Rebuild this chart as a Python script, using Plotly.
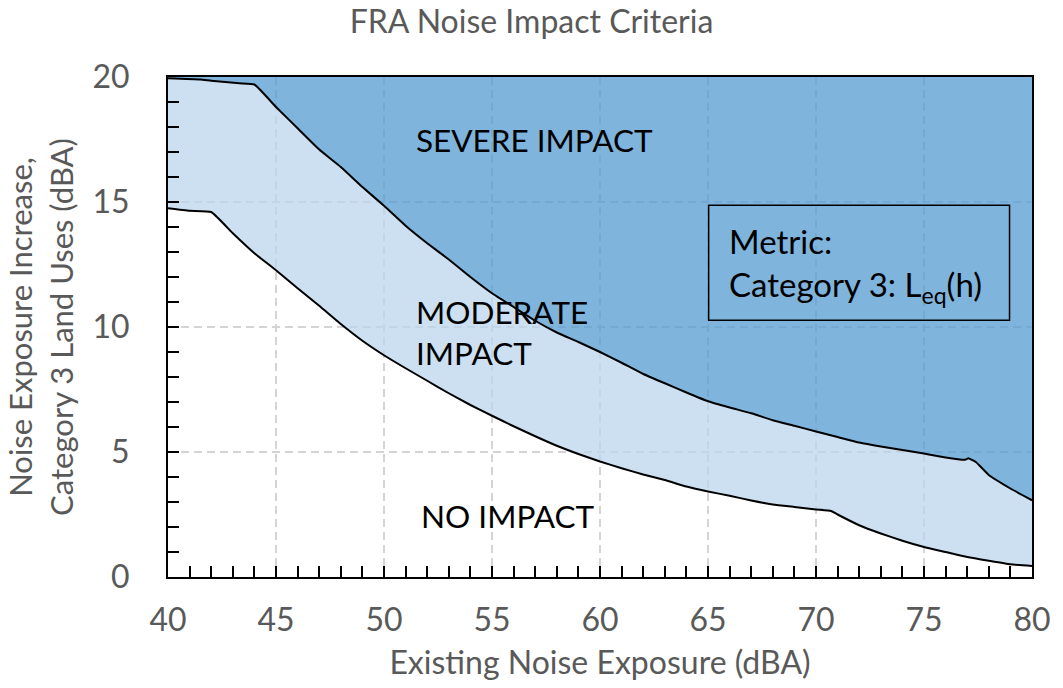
import plotly.graph_objects as go

# ---- data ----
severe_x = [40, 41.5, 42, 43.3, 44, 45, 46, 47, 48, 49, 50, 51, 52, 53, 54, 55, 56, 57, 58, 59,
            60, 61, 62, 63, 64, 65, 66, 67, 68, 69, 70, 71, 72, 73, 74, 75, 76, 76.9, 77.05,
            77.4, 78, 79, 80]
severe_y = [19.95, 19.9, 19.85, 19.75, 19.7, 18.8, 17.95, 17.1, 16.4, 15.6, 14.85, 14.05, 13.35,
            12.7, 12.0, 11.35, 10.8, 10.25, 9.78, 9.4, 9.0, 8.57, 8.12, 7.75, 7.38, 7.03, 6.78,
            6.55, 6.27, 6.05, 5.82, 5.6, 5.38, 5.22, 5.08, 4.94, 4.78, 4.69, 4.75, 4.6, 4.08,
            3.54, 3.07]

moderate_x = [40, 41, 42, 43, 44, 45, 46, 47, 48, 49, 50, 51, 52, 53, 54, 55, 56, 57, 58, 59,
              60, 61, 62, 63, 64, 65, 66, 67, 68, 69, 70, 70.7, 71, 72, 73, 74, 75, 76, 77, 78,
              79, 80]
moderate_y = [14.75, 14.65, 14.6, 13.75, 12.95, 12.27, 11.55, 10.85, 10.12, 9.45, 8.87, 8.35,
              7.85, 7.35, 6.88, 6.45, 6.03, 5.63, 5.25, 4.92, 4.62, 4.35, 4.1, 3.88, 3.62, 3.42,
              3.25, 3.06, 2.9, 2.8, 2.7, 2.64, 2.5, 2.07, 1.74, 1.45, 1.2, 1.0, 0.8, 0.65, 0.51,
              0.44]

x_range = [40, 80]
y_range = [0, 20]

title_text = "FRA Noise Impact Criteria"
x_title = "Existing Noise Exposure (dBA)"
y_title = "Noise Exposure Increase,<br>Category 3 Land Uses (dBA)"

FONT = "Lato"
GREY = "#595959"
SEVERE_FILL = "rgba(84,156,210,0.75)"
MODERATE_FILL = "rgba(188,214,238,0.75)"
SMOOTH = dict(shape="spline", smoothing=0.4)

fig = go.Figure()
# base (moderate threshold) - invisible
fig.add_trace(go.Scatter(x=moderate_x, y=moderate_y, mode="lines",
                         line=dict(width=0, **SMOOTH), hoverinfo="skip", showlegend=False))
# moderate fill up to severe threshold
fig.add_trace(go.Scatter(x=severe_x, y=severe_y, mode="lines", fill="tonexty",
                         fillcolor=MODERATE_FILL, line=dict(width=0, **SMOOTH),
                         hoverinfo="skip", showlegend=False))
# severe fill up to top of axis
fig.add_trace(go.Scatter(x=x_range, y=[y_range[1], y_range[1]], mode="lines", fill="tonexty",
                         fillcolor=SEVERE_FILL, line=dict(width=0),
                         hoverinfo="skip", showlegend=False))
# threshold curves
fig.add_trace(go.Scatter(x=moderate_x, y=moderate_y, mode="lines",
                         line=dict(color="black", width=2, **SMOOTH), showlegend=False))
fig.add_trace(go.Scatter(x=severe_x, y=severe_y, mode="lines",
                         line=dict(color="black", width=2, **SMOOTH), showlegend=False))

axis_common = dict(
    showline=True, linecolor="black", linewidth=2, mirror=True,
    ticks="inside", ticklen=11, tickwidth=1.5, tickcolor="black",
    showgrid=True, gridcolor="#D4D4D4", gridwidth=1.5, griddash="8px,5px",
    zeroline=False,
    tickfont=dict(family=FONT, size=32, color=GREY),
)

fig.update_xaxes(range=x_range, dtick=5, tick0=40,
                 minor=dict(dtick=1, ticks="inside", ticklen=11, tickwidth=1.5,
                            tickcolor="black", showgrid=False),
                 title=dict(text=x_title, font=dict(family=FONT, size=32, color=GREY), standoff=14),
                 ticklabelstandoff=14,
                 **axis_common)
fig.update_yaxes(range=y_range, dtick=5, tick0=0,
                 minor=dict(dtick=1, ticks="inside", ticklen=11, tickwidth=1.5,
                            tickcolor="black", showgrid=False),
                 title=dict(text=y_title, font=dict(family=FONT, size=31, color=GREY), standoff=10),
                 ticklabelstandoff=30,
                 **axis_common)

label_font = dict(family=FONT, size=31.5, color="black")
box_font = dict(family=FONT, size=33, color="black")
fig.add_annotation(x=51.4, y=17.5, text="SEVERE IMPACT", showarrow=False,
                   xanchor="left", yanchor="middle", font=label_font)
fig.add_annotation(x=51.4, y=9.8, text="MODERATE<br>IMPACT", showarrow=False,
                   xanchor="left", yanchor="middle", align="left", font=label_font)
fig.add_annotation(x=51.6, y=2.45, text="NO IMPACT", showarrow=False,
                   xanchor="left", yanchor="middle", font=label_font)

# metric box
fig.add_shape(type="rect", x0=65.03, x1=78.96, y0=10.27, y1=14.87,
              line=dict(color="black", width=1.5), fillcolor="rgba(0,0,0,0)")
fig.add_annotation(x=65.9, y=12.49, text="Metric:<br>Category 3: L<sub>eq</sub>(h)",
                   showarrow=False, xanchor="left", yanchor="middle", align="left",
                   font=box_font)

fig.update_layout(
    width=1063, height=688,
    margin=dict(l=168, r=28, t=77, b=111),
    paper_bgcolor="white", plot_bgcolor="white",
    title=dict(text=title_text, x=0.5, xanchor="center", y=0.968, yanchor="middle",
               font=dict(family=FONT, size=32, color=GREY)),
    showlegend=False,
)

fig.write_html("out.html", config={"displayModeBar": False},
               post_script="document.body.style.margin='0';")
